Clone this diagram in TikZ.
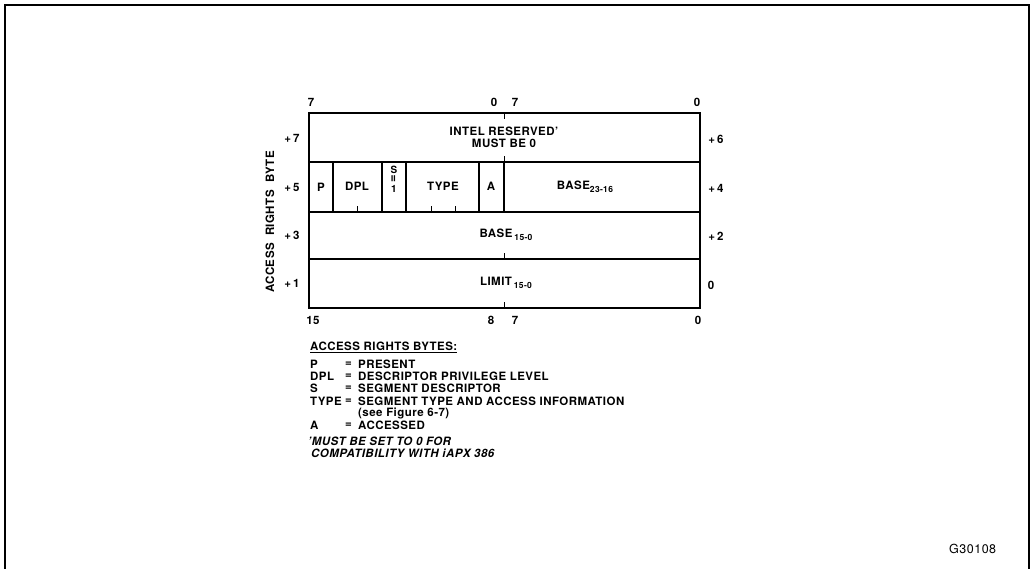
\documentclass[tikz,border=0pt]{standalone}
\usepackage{fontspec}
\setmainfont{TeX Gyre Heros}[LetterSpace=4]
\newcommand\lowsub[1]{\raisebox{-0.45ex}{\fontsize{8.5}{9}\selectfont #1}}

\begin{document}
\begin{tikzpicture}[
    x=1pt, y=-1pt,
    font=\fontsize{11.5}{12}\selectfont\bfseries,
    outer/.style={line width=2.4pt},
    inner/.style={line width=1.1pt},
    tick/.style={line width=1pt},
    lbl/.style={inner sep=0pt},
    key/.style={inner sep=0pt, anchor=west},
    rowtext/.style={inner sep=0pt, align=center}
  ]
    \useasboundingbox (0,0) rectangle (1031,568);
    \draw[line width=1.8pt] (5,580) -- (5,5) -- (1029,5) -- (1029,580);

    % descriptor rows
    \draw[inner] (309,162) -- (700,162) (309,212) -- (700,212) (309,259) -- (700,259);
    \foreach \x in {333,382,406,479,504}
      \draw[inner] (\x,162) -- (\x,212);
    \foreach \x in {357,431,455}
      \draw[tick] (\x,212) -- (\x,206);
    \foreach \y/\d in {113/6,162/-6,259/-6,308/-6}
      \draw[tick] (504,\y) -- (504,\y+\d);
    \draw[outer] (309,113) rectangle (700,308);

    % bit numbers
    \node[lbl] (hi7) at (311,102) {7};
    \node[lbl] (hi0) at (494,102) {0};
    \node[lbl] (lo7) at (515,102) {7};
    \node[lbl] (lo0) at (697,102) {0};
    \node[lbl] (b15) at (313,320) {15};
    \node[lbl] (b8) at (491,320) {8};
    \node[lbl] (b7) at (515,320) {7};
    \node[lbl] (b0) at (698,320) {0};

    % byte offsets
    \node[lbl] (off7) at (292,138) {+\,7};
    \node[lbl] (off5) at (292,187) {+\,5};
    \node[lbl] (off3) at (292,235) {+\,3};
    \node[lbl] (off1) at (292,283) {+\,1};
    \node[lbl] (off6) at (716,139) {+\,6};
    \node[lbl] (off4) at (716,188) {+\,4};
    \node[lbl] (off2) at (716,236) {+\,2};
    \node[lbl] (off0) at (711,285) {0};
    \node[lbl, rotate=90] (arb) at (270,222) {ACCESS\ \ RIGHTS\ \ BYTE};

    % field names
    \node[rowtext] (intel) at (504,137) {INTEL RESERVED'\\MUST BE 0};
    \node[rowtext] (p) at (321,187) {P};
    \node[rowtext] (dpl) at (357,186) {DPL};
    \node[rowtext, font=\fontsize{10}{9}\selectfont\bfseries] (s) at (394,179)
      {S\\[0.5pt]\rotatebox{90}{\scalebox{1.3}{=}}\\[0.5pt]1};
    \node[rowtext] (type) at (443,186) {TYPE};
    \node[rowtext] (a) at (491,186) {A};
    \node[rowtext] (base2316) at (585,187) {BASE\lowsub{23-16}};
    \node[rowtext] (base150) at (506,235) {BASE\,\lowsub{15-0}};
    \node[rowtext] (limit150) at (506,283) {LIMIT\,\lowsub{15-0}};

    % legend
    \node[key] (head) at (310,347) {\underline{ACCESS RIGHTS BYTES:}};
    \foreach \k/\v/\y in {P/PRESENT/364, DPL/DESCRIPTOR PRIVILEGE LEVEL/376,
        S/SEGMENT DESCRIPTOR/388, TYPE/SEGMENT TYPE AND ACCESS INFORMATION/401,
        A/ACCESSED/425}
      {
        \node[key] (k\k) at (310,\y) {\k};
        \node[key] (e\k) at (345,\y) {=};
        \node[key] (v\k) at (358,\y) {\v};
      }
    \node[key] (fig) at (358,413) {(see Figure 6-7)};
    \node[key, font=\fontsize{11.5}{12}\selectfont\bfseries\itshape] (note1) at (308,441) {'MUST BE SET TO 0 FOR};
    \node[key, font=\fontsize{11.5}{12}\selectfont\bfseries\itshape] (note2) at (311,453) {COMPATIBILITY WITH iAPX 386};

    \node[key, font=\fontsize{12.5}{13}\selectfont] (gnum) at (949,549) {G30108};
\end{tikzpicture}
\end{document}
